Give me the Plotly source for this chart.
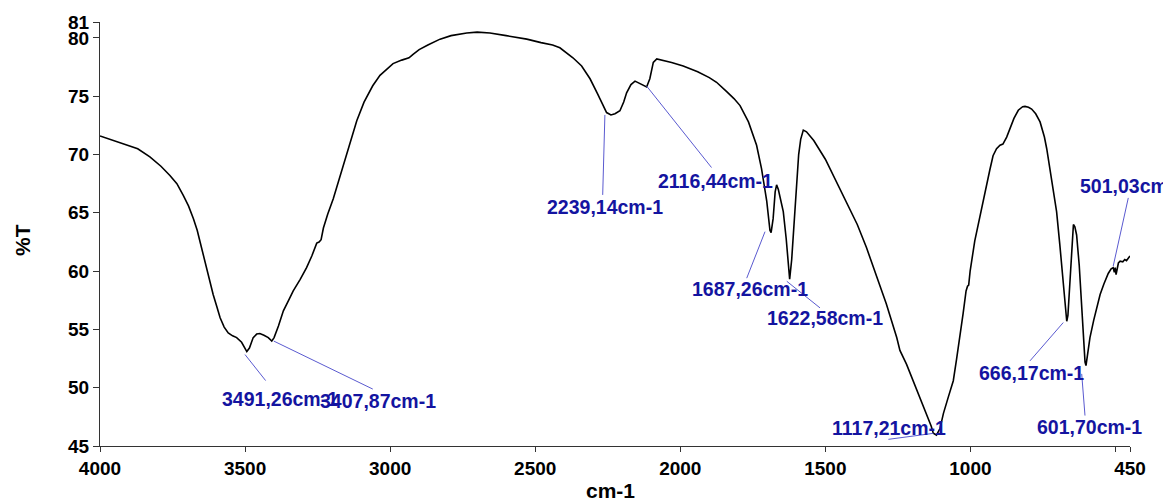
import plotly.graph_objects as go

# ---------------- data ----------------
wavenumber = [
    4000, 3950, 3900, 3870, 3828, 3790, 3759, 3735, 3713, 3695, 3678, 3665, 3655, 3643,
    3632, 3620, 3610, 3598, 3586, 3572, 3558, 3543, 3529, 3512, 3500, 3494, 3485, 3472,
    3460, 3449, 3435, 3420, 3408, 3400, 3385, 3368, 3350, 3334, 3310, 3288, 3270, 3253,
    3245, 3238, 3230, 3215, 3196, 3178, 3161, 3145, 3127, 3115, 3090, 3060, 3035, 3012,
    2990, 2960, 2935, 2921, 2900, 2870, 2828, 2790, 2736, 2700, 2656, 2600, 2560, 2529,
    2480, 2440, 2415, 2392, 2370, 2340, 2311, 2285, 2265, 2254, 2239, 2225, 2208, 2195,
    2185, 2170, 2156, 2140, 2127, 2116, 2105, 2093, 2081, 2060, 2030, 1990, 1940, 1900,
    1875, 1840, 1815, 1794, 1765, 1737, 1720, 1702, 1691, 1687, 1680, 1673, 1668, 1662,
    1655, 1645, 1635, 1628, 1623, 1616, 1610, 1605, 1599, 1592, 1585, 1576, 1565, 1540,
    1500, 1461, 1420, 1390, 1358, 1320, 1290, 1254, 1243, 1220, 1197, 1175, 1151, 1135,
    1128, 1117, 1105, 1093, 1075, 1059, 1048, 1036, 1025, 1015, 1010, 1006, 1001, 985,
    967, 956, 944, 933, 922, 910, 898, 888, 875, 864, 850, 835, 820, 812, 800, 789, 775,
    760, 745, 737, 725, 715, 703, 692, 680, 672, 668, 664, 657, 650, 645, 640, 634, 625,
    617, 610, 605, 601.7, 597, 588, 575, 563, 553, 540, 525, 515, 508, 504, 501, 498, 495,
    490, 484, 475, 468, 462, 456, 450,
]
transmittance = [
    71.6, 71.2, 70.8, 70.5, 69.8, 69.0, 68.2, 67.5, 66.5, 65.6, 64.5, 63.5, 62.5, 61.3,
    60.0, 58.9, 58.0, 57.0, 56.0, 55.2, 54.7, 54.45, 54.3, 53.9, 53.4, 53.1, 53.4, 54.3,
    54.6, 54.65, 54.5, 54.3, 54.0, 54.3, 55.3, 56.6, 57.5, 58.3, 59.3, 60.3, 61.3, 62.4,
    62.5, 62.7, 63.7, 64.9, 66.2, 67.7, 69.1, 70.5, 71.9, 72.9, 74.5, 75.9, 76.8, 77.3,
    77.8, 78.1, 78.3, 78.6, 79.0, 79.4, 79.9, 80.2, 80.43, 80.5, 80.43, 80.2, 80.05, 79.9,
    79.6, 79.4, 79.16, 78.7, 78.3, 77.6, 76.5, 75.2, 74.1, 73.6, 73.4, 73.5, 73.76, 74.5,
    75.3, 76.0, 76.3, 76.1, 75.9, 75.8, 76.5, 77.9, 78.2, 78.1, 77.9, 77.6, 77.1, 76.6,
    76.2, 75.4, 74.8, 74.2, 72.8, 70.8, 68.8, 66.0, 63.5, 63.3, 64.5, 66.8, 67.4, 67.0,
    66.2, 65.1, 62.8, 60.6, 59.3, 61.0, 63.4, 65.5, 67.65, 70.0, 71.3, 72.1, 71.95, 71.2,
    69.6, 67.65, 65.6, 64.0, 62.0, 59.3, 57.2, 54.3, 53.2, 52.0, 50.6, 49.2, 47.8, 46.7,
    46.1, 45.94, 46.5, 47.8, 49.3, 50.6, 52.4, 54.3, 56.4, 58.3, 58.7, 58.8, 60.0, 62.6,
    64.8, 66.0, 67.6, 68.7, 69.9, 70.5, 70.8, 70.9, 71.5, 72.2, 73.1, 73.8, 74.1, 74.13,
    74.05, 73.9, 73.5, 72.8, 71.5, 70.5, 68.5, 66.8, 65.1, 62.3, 58.9, 56.5, 55.7, 56.2,
    58.9, 62.0, 64.0, 63.8, 63.1, 60.5, 57.4, 54.0, 52.2, 51.9, 52.6, 54.3, 55.8, 57.1,
    58.0, 58.9, 59.8, 60.2, 60.3, 59.9, 60.3, 59.7, 60.2, 60.7, 60.85, 60.8, 61.0, 60.9,
    61.1, 61.3,
]

# peak labels (position on the spectrum + text)
peak_wn = [3491.26, 3407.87, 2239.14, 2116.44, 1687.26, 1622.58, 1117.21, 666.17, 601.70, 501.03]
peak_T = [53.1, 54.0, 73.4, 75.8, 63.3, 59.3, 45.94, 55.7, 51.9, 60.2]
peak_text = ["3491,26cm-1", "3407,87cm-1", "2239,14cm-1", "2116,44cm-1", "1687,26cm-1",
             "1622,58cm-1", "1117,21cm-1", "666,17cm-1", "601,70cm-1", "501,03cm-1"]

x_tickvals = [4000, 3500, 3000, 2500, 2000, 1500, 1000, 500, 450]
x_ticktext = ["4000", "3500", "3000", "2500", "2000", "1500", "1000", "", "450"]
y_tickvals = [45, 50, 55, 60, 65, 70, 75, 80, 81.37]
y_ticktext = ["45", "50", "55", "60", "65", "70", "75", "80", "81"]

# ---------------- layout / style (pixel offsets of leader lines and labels) ----------------
# (line start dx, dy, line end dx, dy, label left dx, label centre dy) ; dy positive = up
label_layout = [
    (-2.6, -3, 18, -29, -27.6, -47),
    (2, 0, 101, -48, 46.2, -59.7),
    (-6, 0, -8.2, -80, -65.9, -92.4),
    (0, 1, 65, -80.6, 9.5, -93.6),
    (-6, 1, -24.3, -45.5, -81, -56.8),
    (-3, -2, 30.2, -28.6, -24.8, -38.6),
    (-3, 1.7, -48, -4.3, -106.4, 7),
    (-4, -1.3, -37.3, -39.6, -90.3, -51.3),
    (-4.3, -8.3, -1, -50, -51, -61.7),
    (-2, 2.6, 13.1, 70.9, -37.2, 82.6),
]

FONT = "Arial, Liberation Sans, Helvetica, sans-serif"
LABEL_COLOR = "#1414a0"
LEADER_COLOR = "#5a5ad0"

fig = go.Figure()
fig.add_trace(go.Scatter(x=wavenumber, y=transmittance, mode="lines",
                         line=dict(color="black", width=1.6), hoverinfo="skip"))

shapes = []
annotations = []
for wn, t, txt, (sx, sy, ex, ey, lx, ly) in zip(peak_wn, peak_T, peak_text, label_layout):
    shapes.append(dict(type="line", xref="x", yref="y", xsizemode="pixel", ysizemode="pixel",
                       xanchor=wn, yanchor=t, x0=sx, y0=sy, x1=ex, y1=ey,
                       line=dict(color=LEADER_COLOR, width=1)))
    annotations.append(dict(x=wn, y=t, xref="x", yref="y", text=txt, showarrow=False,
                            xanchor="left", yanchor="middle", xshift=lx, yshift=ly,
                            font=dict(family=FONT, size=19.5, color=LABEL_COLOR,
                                      weight="bold")))

annotations.append(dict(x=0, y=0.5, xref="paper", yref="paper", text="<b>%T</b>",
                        textangle=-90, showarrow=False, xanchor="center", yanchor="middle",
                        xshift=-78, yshift=-6, font=dict(family=FONT, size=21, color="black")))
annotations.append(dict(x=0.5, y=0, xref="paper", yref="paper", text="<b>cm-1</b>",
                        showarrow=False, xanchor="center", yanchor="middle",
                        xshift=-5, yshift=-44, font=dict(family=FONT, size=21, color="black")))

fig.update_layout(
    width=1163, height=503,
    margin=dict(l=100, r=33, t=19, b=57),
    paper_bgcolor="white", plot_bgcolor="white",
    showlegend=False,
    shapes=shapes,
    annotations=annotations,
    font=dict(family=FONT, color="black"),
    xaxis=dict(range=[4000, 450], tickvals=x_tickvals, ticktext=x_ticktext,
               showgrid=False, zeroline=False, showline=True, linecolor="#333",
               linewidth=1, ticks="outside", ticklen=5, tickcolor="#333",
               tickfont=dict(family=FONT, size=19, color="black", weight="bold")),
    yaxis=dict(range=[45, 81.37], tickvals=y_tickvals, ticktext=y_ticktext,
               showgrid=False, zeroline=False, showline=True, linecolor="#333",
               linewidth=1, ticks="outside", ticklen=6, tickcolor="#333",
               tickfont=dict(family=FONT, size=19, color="black", weight="bold")),
)

fig.write_html("out.html")
